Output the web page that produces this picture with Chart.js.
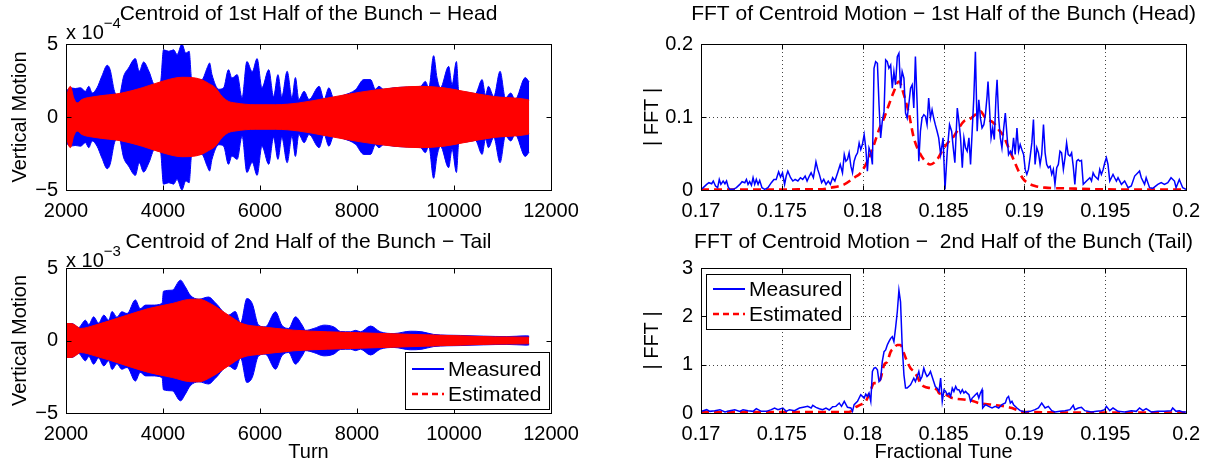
<!DOCTYPE html>
<html>
<head>
<meta charset="utf-8">
<script src="https://cdn.jsdelivr.net/npm/chart.js@4/dist/chart.umd.min.js"></script>
<style>
  html, body { margin: 0; padding: 0; background: #fff; }
  #fig { position: relative; width: 1209px; height: 464px; overflow: hidden; }
  #fig canvas { position: absolute; }
</style>
</head>
<body>
<div id="fig">
  <canvas id="headTime" width="604" height="232" style="left:0;top:0"></canvas>
  <canvas id="tailTime" width="604" height="232" style="left:0;top:232px"></canvas>
  <canvas id="headFft" width="605" height="232" style="left:604px;top:0"></canvas>
  <canvas id="tailFft" width="605" height="232" style="left:604px;top:232px"></canvas>
</div>
<script>
// ---- data ----
// time plots: envelope amplitude of the oscillation (head in 1e-4, tail in 1e-3)
const headMeasTurn = [2000,2090,2190,2300,2400,2470,2540,2640,2740,2850,
  2910,3000,3090,3190,3290,3430,3510,3600,3710,3830,
  3950,4010,4120,4220,4290,4390,4470,4540,4590,4800,
  4910,4960,5010,5150,5250,5350,5420,5530,5630,5730,
  5840,5940,6040,6180,6280,6370,6450,6560,6660,6730,
  6800,6910,7010,7220,7320,7420,7520,7730,7970,8140,
  8280,8380,8450,8550,8760,9030,9310,9410,9480,9580,
  9650,9720,9890,9960,10050,10100,10270,10440,10580,10650,
  10710,10820,10950,11060,11170,11260,11470,11550];
const headMeasAmp = [1.76,2.0,1.95,2.0,1.76,2.1,1.64,2.0,2.8,3.54,
  3.24,1.76,1.4,2.8,3.36,4.0,3.13,3.77,3.13,2.2,
  2.44,4.6,4.5,4.6,4.27,5.0,4.38,4.5,2.67,2.56,
  3.36,3.7,2.9,1.9,2.0,3.24,2.67,2.9,1.3,3.8,
  3.1,4.0,2.0,3.24,1.4,2.9,1.4,3.13,1.3,2.7,
  1.2,1.76,1.2,2.1,1.2,2.0,1.3,1.5,1.87,2.56,
  2.56,1.9,2.1,1.9,2.0,2.05,2.1,2.44,2.0,4.2,
  2.67,2.0,3.47,2.2,3.8,1.75,1.7,1.6,2.56,1.5,
  2.1,1.4,3.13,1.3,1.64,1.2,2.7,2.4];
const headEstTurn = [2000,2050,2090,2160,2230,2330,2600,3150,3570,3980,
  4390,4670,4800,4940,5080,5220,5350,5490,5900,6320,
  6800,7390,8070,8760,9310,9790,10200,10820,11500,11550];
const headEstAmp = [1.2,1.9,2.1,1.3,0.96,1.2,1.4,1.64,2.0,2.44,
  2.72,2.67,2.55,2.3,2.0,1.4,1.07,0.96,0.84,0.84,
  0.96,1.3,1.7,2.0,2.1,2.0,1.76,1.4,1.2,1.15];

const tailMeasTurn = [2000,2120,2260,2400,2470,2570,2670,2780,2880,2950,
  3050,3150,3260,3430,3530,3640,3770,3980,4010,4190,
  4360,4460,4560,4740,4940,5080,5350,5490,5600,5730,
  5840,5970,6110,6320,6450,6590,6730,6870,6940,7110,
  7320,7520,7660,7870,7970,8070,8280,8480,8760,9100,
  9340,9580,10130,10610,11090,11500,11550];
const tailMeasAmp = [1.17,1.17,0.9,1.4,1.1,1.63,1.2,1.75,1.4,2.0,
  1.6,1.98,1.86,2.8,2.2,2.44,2.44,2.55,3.4,3.47,
  4.16,3.7,3.13,2.85,3.0,2.6,1.75,2.0,1.2,2.9,
  2.55,1.06,0.94,1.98,1.06,0.83,1.63,1.06,0.7,0.83,
  1.06,0.94,0.62,0.6,0.7,0.6,1.0,0.6,0.48,0.64,
  0.6,0.42,0.35,0.3,0.27,0.32,0.3];
const tailEstTurn = [2000,2100,2190,2300,2600,3150,3700,4190,4530,4740,
  5010,5350,5630,6040,6590,6700,7390,8070,8760,9440,
  10130,10820,11500,11550];
const tailEstAmp = [1.17,1.17,1.06,0.83,1.06,1.63,2.2,2.55,2.83,2.85,
  2.48,1.75,1.17,0.94,0.75,0.71,0.6,0.53,0.46,0.39,
  0.32,0.25,0.23,0.22];

// FFT plots
const headFftTune = [0.17,0.17014,0.17035,0.17049,0.17066,0.17076,0.1709,0.17103,0.17113,0.17123,
  0.17137,0.17148,0.17158,0.17168,0.17178,0.17199,0.17219,0.1724,0.17254,0.17271,
  0.17281,0.17291,0.17301,0.17312,0.17322,0.17332,0.17342,0.17353,0.17363,0.17377,
  0.17394,0.17414,0.17435,0.17451,0.17465,0.1748,0.17492,0.17504,0.17517,0.17527,
  0.17537,0.17554,0.17568,0.17582,0.17599,0.17615,0.17629,0.17644,0.17656,0.1767,
  0.17681,0.17695,0.17711,0.17722,0.17732,0.17746,0.17759,0.17773,0.17787,0.178,
  0.17814,0.17828,0.17845,0.17861,0.17875,0.17886,0.17896,0.17906,0.17916,0.17927,
  0.17937,0.17947,0.17957,0.17968,0.17978,0.17988,0.17998,0.18009,0.18019,0.18029,
  0.18039,0.1805,0.1806,0.1807,0.1808,0.18091,0.18101,0.18111,0.18121,0.18132,
  0.18142,0.18152,0.18162,0.18173,0.18183,0.18193,0.18203,0.18214,0.18224,0.18234,
  0.18244,0.18255,0.18265,0.18275,0.18285,0.18296,0.18306,0.18316,0.18326,0.18337,
  0.18347,0.18357,0.18367,0.18378,0.18388,0.18398,0.18408,0.18419,0.18429,0.18439,
  0.18449,0.1846,0.1847,0.18482,0.18497,0.18509,0.18523,0.18537,0.1855,0.1856,
  0.1857,0.18585,0.18595,0.18605,0.18616,0.18626,0.18636,0.18646,0.18657,0.18667,
  0.18677,0.18687,0.18697,0.18708,0.18718,0.18728,0.18738,0.18749,0.18759,0.18769,
  0.18775,0.18783,0.18794,0.18804,0.18814,0.18824,0.18831,0.18841,0.18851,0.18861,
  0.18872,0.18882,0.18892,0.18902,0.18913,0.18923,0.18933,0.18943,0.18954,0.18964,
  0.18974,0.18984,0.18995,0.19005,0.19015,0.19025,0.19036,0.19046,0.19056,0.19066,
  0.19077,0.19087,0.19097,0.19107,0.19118,0.19128,0.19138,0.19148,0.19159,0.19169,
  0.19179,0.19189,0.192,0.1921,0.1922,0.1923,0.19241,0.19251,0.19261,0.19271,
  0.19282,0.19292,0.19302,0.19312,0.19323,0.19333,0.19343,0.19353,0.19364,0.19384,
  0.19405,0.19415,0.19425,0.19435,0.19456,0.19466,0.19476,0.19487,0.19497,0.19507,
  0.19517,0.19528,0.19538,0.19548,0.19558,0.19569,0.19579,0.196,0.1962,0.19641,
  0.19661,0.19682,0.19702,0.19712,0.19723,0.19743,0.19753,0.19774,0.19794,0.19825,
  0.19846,0.19866,0.19887,0.19907,0.19928,0.19938,0.19958,0.19979,0.2];
const headFftMeas = [0.0009,0.0032,0.0077,0.0100,0.0086,0.0123,0.0055,0.0032,0.0145,0.0077,
  0.0123,0.0086,0.0123,0.0041,0.0009,0.0009,0.0032,0.0077,0.0114,0.0100,
  0.0145,0.0077,0.0114,0.0064,0.0168,0.0077,0.0145,0.0077,0.0132,0.0032,
  0.0009,0.0032,0.0100,0.0145,0.0145,0.0250,0.0177,0.0236,0.0077,0.0191,
  0.0259,0.0168,0.0123,0.0145,0.0123,0.0168,0.0145,0.0191,0.0123,0.0191,
  0.0236,0.0168,0.0386,0.0282,0.0214,0.0100,0.0145,0.0077,0.0123,0.0077,
  0.0168,0.0123,0.0236,0.0350,0.0236,0.0486,0.0395,0.0418,0.0509,0.0327,
  0.0236,0.0395,0.0464,0.0509,0.0645,0.0554,0.0623,0.0759,0.0577,0.0259,
  0.0577,0.0509,0.0350,0.1668,0.1759,0.1736,0.1168,0.0714,0.0941,0.1077,
  0.1782,0.1759,0.1668,0.1714,0.1395,0.1623,0.1441,0.1827,0.1873,0.1395,
  0.1623,0.1532,0.1054,0.0986,0.1168,0.1395,0.1441,0.1123,0.1827,0.1168,
  0.0395,0.0805,0.0986,0.1032,0.1009,0.0895,0.1259,0.0986,0.1100,0.0986,
  0.0895,0.0805,0.0714,0.0486,0.0714,0.0009,0.0532,0.0895,0.0805,0.0577,
  0.0373,0.1123,0.0941,0.0714,0.0305,0.0714,0.0577,0.0532,0.0714,0.0350,
  0.0805,0.1259,0.1895,0.0805,0.1236,0.0986,0.0850,0.0895,0.1032,0.1282,
  0.1486,0.1168,0.0714,0.0850,0.0691,0.1259,0.1509,0.0986,0.0714,0.0577,
  0.0850,0.1054,0.0759,0.0486,0.0532,0.0486,0.0714,0.0486,0.0850,0.0532,
  0.0623,0.0555,0.0486,0.0282,0.0214,0.0282,0.0464,0.0645,0.0964,0.0350,
  0.0577,0.0509,0.0350,0.0486,0.0895,0.0509,0.0350,0.0305,0.0327,0.0214,
  0.0282,0.0077,0.0305,0.0350,0.0532,0.0509,0.0282,0.0441,0.0645,0.0486,
  0.0464,0.0509,0.0327,0.0077,0.0395,0.0418,0.0395,0.0405,0.0077,0.0123,
  0.0168,0.0123,0.0236,0.0191,0.0145,0.0282,0.0214,0.0282,0.0373,0.0441,
  0.0350,0.0123,0.0168,0.0214,0.0168,0.0123,0.0168,0.0077,0.0123,0.0032,
  0.0055,0.0191,0.0236,0.0259,0.0168,0.0077,0.0168,0.0032,0.0023,0.0077,
  0.0100,0.0077,0.0100,0.0168,0.0123,0.0032,0.0145,0.0032,0.0009];
const headFftEstTune = [0.17,0.173,0.176,0.1775,0.178,0.17886,0.17947,0.17988,0.18029,0.1807,
  0.18101,0.18132,0.18162,0.18193,0.18224,0.18255,0.18285,0.18316,0.18347,0.18378,
  0.18419,0.1846,0.18503,0.18534,0.18564,0.18595,0.18626,0.18657,0.18697,0.18728,
  0.18759,0.1881,0.18841,0.18872,0.18902,0.18933,0.18964,0.18995,0.19025,0.19066,
  0.19128,0.19251,0.19497,0.2];
const headFftEst = [0.0005,0.0005,0.0008,0.001,0.003,0.0077,0.0168,0.0236,0.0395,0.0623,
  0.0827,0.0986,0.1168,0.135,0.1486,0.1304,0.1054,0.0714,0.0532,0.0418,
  0.035,0.0418,0.0577,0.0668,0.0736,0.085,0.0941,0.0964,0.1032,0.1077,
  0.0986,0.0918,0.0827,0.0736,0.0577,0.0418,0.0259,0.0145,0.0091,0.0055,
  0.0032,0.0023,0.0009,0.0005];

const tailFftTune = [0.17,0.17014,0.17035,0.17055,0.17086,0.17117,0.17148,0.17178,0.17209,0.1724,
  0.1726,0.17291,0.17322,0.17342,0.17373,0.17404,0.17435,0.17455,0.17476,0.17506,
  0.17527,0.17547,0.17578,0.17609,0.1764,0.1766,0.17681,0.17691,0.17711,0.17732,
  0.17752,0.17773,0.17793,0.17814,0.17834,0.17855,0.17869,0.17886,0.17906,0.17927,
  0.17937,0.17947,0.17968,0.17988,0.18009,0.18019,0.18029,0.18039,0.1805,0.1806,
  0.1807,0.1808,0.18091,0.18101,0.18111,0.18121,0.18132,0.18142,0.18152,0.18162,
  0.18173,0.18183,0.18193,0.18203,0.18214,0.18224,0.18234,0.18244,0.18255,0.18265,
  0.18275,0.18285,0.18296,0.18306,0.18316,0.18326,0.18337,0.18347,0.18357,0.18367,
  0.18378,0.18388,0.18398,0.18408,0.18419,0.18429,0.18439,0.18449,0.1846,0.18472,
  0.18482,0.18492,0.18503,0.18513,0.18523,0.18534,0.18544,0.18554,0.18564,0.18575,
  0.18585,0.18595,0.18605,0.18616,0.18626,0.18636,0.18646,0.18657,0.18667,0.18677,
  0.18687,0.18697,0.18708,0.18718,0.18728,0.18738,0.18742,0.18759,0.18779,0.188,
  0.1882,0.18841,0.18861,0.18882,0.18892,0.18902,0.18913,0.18923,0.18933,0.18954,
  0.18974,0.19005,0.19036,0.19066,0.19087,0.19107,0.19128,0.19148,0.19169,0.19189,
  0.1922,0.19251,0.19282,0.19302,0.19312,0.19333,0.19353,0.19374,0.19415,0.19446,
  0.19476,0.19497,0.19507,0.19528,0.19548,0.19579,0.1962,0.19661,0.19692,0.19712,
  0.19733,0.19753,0.19784,0.19825,0.19866,0.19907,0.19917,0.19938,0.19958,0.19979,
  0.2];
const tailFftMeas = [0.034,0.048,0.069,0.034,0.048,0.069,0.021,0.048,0.069,0.034,
  0.069,0.048,0.034,0.089,0.034,0.034,0.069,0.103,0.069,0.103,
  0.034,0.069,0.048,0.103,0.124,0.137,0.103,0.158,0.117,0.089,
  0.069,0.103,0.062,0.13,0.137,0.206,0.137,0.24,0.117,0.103,
  0.034,0.172,0.24,0.378,0.309,0.391,0.343,0.412,0.24,0.858,
  0.927,0.94,0.892,0.652,0.687,1.064,1.27,1.304,1.407,1.476,
  1.545,1.579,1.476,1.751,2.094,2.54,2.3,1.407,0.789,0.515,
  0.515,0.549,0.584,0.652,0.721,0.652,0.755,0.858,0.687,0.755,
  0.927,0.824,0.755,0.789,0.858,0.755,0.652,0.549,0.515,0.446,
  0.721,0.24,0.481,0.446,0.378,0.412,0.343,0.515,0.446,0.549,
  0.481,0.481,0.412,0.481,0.412,0.446,0.412,0.378,0.24,0.309,
  0.343,0.378,0.412,0.309,0.412,0.481,0.103,0.172,0.137,0.103,
  0.137,0.103,0.172,0.206,0.309,0.343,0.206,0.24,0.172,0.103,
  0.048,0.021,0.034,0.069,0.103,0.206,0.103,0.137,0.048,0.021,
  0.034,0.048,0.069,0.158,0.069,0.103,0.117,0.048,0.021,0.034,
  0.048,0.069,0.137,0.048,0.103,0.034,0.021,0.048,0.034,0.103,
  0.048,0.089,0.021,0.034,0.034,0.048,0.103,0.034,0.048,0.021,
  0.021];
const tailFftEstTune = [0.17,0.175,0.179,0.17927,0.17947,0.17988,0.18019,0.1805,0.1807,0.18091,
  0.18111,0.18132,0.18152,0.18173,0.18193,0.18214,0.18234,0.18255,0.18275,0.18296,
  0.18316,0.18337,0.18357,0.18378,0.18419,0.1846,0.18472,0.18513,0.18554,0.18636,
  0.18677,0.18718,0.188,0.18882,0.18923,0.18964,0.19005,0.195,0.2];
const tailFftEst = [0.021,0.021,0.021,0.034,0.103,0.172,0.24,0.481,0.618,0.618,
  0.721,0.995,1.064,1.27,1.339,1.407,1.407,1.236,1.064,0.927,
  0.858,0.755,0.618,0.549,0.515,0.481,0.412,0.378,0.309,0.275,
  0.254,0.206,0.172,0.137,0.103,0.048,0.021,0.01,0.01];

// tick values
const turnTicks = [2000, 4000, 6000, 8000, 10000, 12000];
const motionTicks = [-5, 0, 5];
const tuneTicks = [0.17, 0.175, 0.18, 0.185, 0.19, 0.195, 0.2];
const headFftTicks = [0, 0.1, 0.2];
const tailFftTicks = [0, 1, 2, 3];

// ---- drawing ----
const BLUE = '#0000ff';
const RED = '#ff0000';
Chart.defaults.font.family = "'Liberation Sans', Arial, Helvetica, sans-serif";
Chart.defaults.font.size = 20;
Chart.defaults.color = '#000';

const fmt = v => (v < 0 ? '\u2212' + Math.abs(v) : String(v));
const zip = (xs, ys) => xs.map((x, i) => ({x: x, y: ys[i]}));
const band = (xs, amps, sign) => xs.map((x, i) => ({x: x, y: sign * amps[i]}));

// MATLAB-style frame: box, inward ticks, dotted grid, title, exponent, legend
const matlabAxes = {
  id: 'matlabAxes',
  beforeDatasetsDraw(chart, args, o) {
    if (!o.grid) return;
    const {ctx, chartArea: a, scales: {x, y}} = chart;
    ctx.save();
    ctx.strokeStyle = '#444';
    ctx.lineWidth = 1;
    ctx.setLineDash([1, 3]);
    ctx.beginPath();
    x.ticks.forEach(t => {
      const px = Math.round(x.getPixelForValue(t.value)) + 0.5;
      if (px > a.left + 2 && px < a.right - 2) { ctx.moveTo(px, a.top); ctx.lineTo(px, a.bottom); }
    });
    y.ticks.forEach(t => {
      const py = Math.round(y.getPixelForValue(t.value)) + 0.5;
      if (py > a.top + 2 && py < a.bottom - 2) { ctx.moveTo(a.left, py); ctx.lineTo(a.right, py); }
    });
    ctx.stroke();
    ctx.restore();
  },
  afterDatasetsDraw(chart, args, o) {
    const {ctx, chartArea: a, scales: {x, y}} = chart;
    const L = Math.round(a.left) + 0.5, R = Math.round(a.right) + 0.5;
    const T = Math.round(a.top) + 0.5, B = Math.round(a.bottom) + 0.5;
    const tl = 5;
    ctx.save();
    ctx.strokeStyle = '#000';
    ctx.lineWidth = 1;
    ctx.strokeRect(L, T, R - L, B - T);
    ctx.beginPath();
    x.ticks.forEach(t => {
      const px = Math.round(x.getPixelForValue(t.value)) + 0.5;
      ctx.moveTo(px, B); ctx.lineTo(px, B - tl);
      ctx.moveTo(px, T); ctx.lineTo(px, T + tl);
    });
    y.ticks.forEach(t => {
      const py = Math.round(y.getPixelForValue(t.value)) + 0.5;
      ctx.moveTo(L, py); ctx.lineTo(L + tl, py);
      ctx.moveTo(R, py); ctx.lineTo(R - tl, py);
    });
    ctx.stroke();

    if (o.legend) {
      const lg = o.legend;
      ctx.fillStyle = '#fff';
      ctx.fillRect(lg.x, lg.y, lg.w, lg.h);
      ctx.strokeStyle = '#000';
      ctx.strokeRect(lg.x + 0.5, lg.y + 0.5, lg.w, lg.h);
      ctx.font = '21px ' + Chart.defaults.font.family;
      ctx.textBaseline = 'middle';
      ctx.textAlign = 'left';
      lg.items.forEach((it, i) => {
        const cy = lg.y + lg.rows[i];
        ctx.save();
        ctx.strokeStyle = it.color;
        ctx.lineWidth = it.width;
        ctx.setLineDash(it.dash);
        ctx.beginPath();
        ctx.moveTo(lg.x + 7, cy);
        ctx.lineTo(lg.x + 39, cy);
        ctx.stroke();
        ctx.restore();
        ctx.fillStyle = '#000';
        ctx.fillText(it.label, lg.x + 43, cy + 1);
      });
    }
    ctx.restore();
  },
  afterDraw(chart, args, o) {
    const {ctx, chartArea: a} = chart;
    const fam = Chart.defaults.font.family;
    ctx.save();
    ctx.fillStyle = '#000';
    ctx.textBaseline = 'middle';
    ctx.textAlign = 'center';
    ctx.font = '21px ' + fam;
    ctx.fillText(o.title, (a.left + a.right) / 2, o.titleY);
    if (o.exponent) {
      ctx.textAlign = 'left';
      ctx.font = '20px ' + fam;
      ctx.fillText('x 10', a.left, o.expY);
      const w = ctx.measureText('x 10').width;
      ctx.font = '15px ' + fam;
      ctx.fillText(o.exponent, a.left + w, o.expY - 9);
    }
    ctx.restore();
  }
};

function scaleSet(p) {
  return {
    x: {
      type: 'linear', min: p.xMin, max: p.xMax,
      grid: {display: false, drawTicks: false},
      border: {display: false},
      afterBuildTicks: s => { s.ticks = p.xTicks.map(v => ({value: v})); },
      afterFit: s => { s.height = p.xAxisH; },
      ticks: {padding: 9, maxRotation: 0, autoSkip: false, callback: fmt},
      title: {display: !!p.xTitle, text: p.xTitle || '', padding: {top: 0, bottom: 0}}
    },
    y: {
      type: 'linear', min: p.yMin, max: p.yMax,
      grid: {display: false, drawTicks: false},
      border: {display: false},
      afterBuildTicks: s => { s.ticks = p.yTicks.map(v => ({value: v})); },
      afterFit: s => { s.width = p.yAxisW; },
      ticks: {padding: 8, autoSkip: false, callback: fmt},
      title: {display: true, text: p.yTitle, padding: {top: p.yTitlePad, bottom: 0}}
    }
  };
}

function baseOptions(p, frame) {
  return {
    responsive: false,
    animation: false,
    events: [],
    layout: {padding: {left: 0, top: p.padTop, right: p.padRight, bottom: 0}},
    plugins: {legend: {display: false}, tooltip: {enabled: false}, matlabAxes: frame},
    scales: scaleSet(p)
  };
}

function timeChart(id, measTurn, measAmp, estTurn, estAmp, p, frame) {
  const env = (data, color, fill) => ({
    data: data, borderColor: color, backgroundColor: color, borderWidth: 1,
    pointRadius: 0, cubicInterpolationMode: 'monotone', fill: fill
  });
  return new Chart(document.getElementById(id), {
    type: 'line',
    data: {
      datasets: [
        Object.assign(env(band(estTurn, estAmp, 1), RED, '+1'), {label: 'Estimated'}),
        env(band(estTurn, estAmp, -1), RED, false),
        Object.assign(env(band(measTurn, measAmp, 1), BLUE, '+1'), {label: 'Measured'}),
        env(band(measTurn, measAmp, -1), BLUE, false)
      ]
    },
    options: baseOptions(p, frame),
    plugins: [matlabAxes]
  });
}

function fftChart(id, tune, meas, estTune, est, p, frame) {
  return new Chart(document.getElementById(id), {
    type: 'line',
    data: {
      datasets: [
        {label: 'Measured', data: zip(tune, meas), borderColor: BLUE, borderWidth: 1.5,
         pointRadius: 0, tension: 0, fill: false},
        {label: 'Estimated', data: zip(estTune, est), borderColor: RED, borderWidth: 2.6,
         borderDash: [8, 5], pointRadius: 0, cubicInterpolationMode: 'monotone', fill: false}
      ]
    },
    options: baseOptions(p, frame),
    plugins: [matlabAxes]
  });
}

const legendItems = [
  {label: 'Measured', color: BLUE, width: 2, dash: []},
  {label: 'Estimated', color: RED, width: 2.6, dash: [6, 4]}
];

const timeAxes = {xMin: 2000, xMax: 12000, xTicks: turnTicks, yMin: -5, yMax: 5, yTicks: motionTicks,
  yTitle: 'Vertical Motion', yAxisW: 66, yTitlePad: 8, padRight: 53};
const fftAxes = {xMin: 0.17, xMax: 0.2, xTicks: tuneTicks, yTitle: '| FFT |', yAxisW: 97, yTitlePad: 36, padRight: 21};

timeChart('headTime', headMeasTurn, headMeasAmp, headEstTurn, headEstAmp,
  Object.assign({}, timeAxes, {padTop: 44, xAxisH: 42}),
  {title: 'Centroid of 1st Half of the Bunch \u2212 Head', titleY: 14, exponent: '\u22124', expY: 33});

timeChart('tailTime', tailMeasTurn, tailMeasAmp, tailEstTurn, tailEstAmp,
  Object.assign({}, timeAxes, {padTop: 36, xAxisH: 51, xTitle: 'Turn'}),
  {title: 'Centroid of 2nd Half of the Bunch \u2212 Tail', titleY: 10, exponent: '\u22123', expY: 29,
   legend: {x: 405, y: 120, w: 144, h: 57, rows: [17, 42], items: legendItems}});

fftChart('headFft', headFftTune, headFftMeas, headFftEstTune, headFftEst,
  Object.assign({}, fftAxes, {yMin: 0, yMax: 0.2, yTicks: headFftTicks, padTop: 44, xAxisH: 42}),
  {title: 'FFT of Centroid Motion \u2212 1st Half of the Bunch (Head)', titleY: 14, grid: true});

fftChart('tailFft', tailFftTune, tailFftMeas, tailFftEstTune, tailFftEst,
  Object.assign({}, fftAxes, {yMin: 0, yMax: 3, yTicks: tailFftTicks, padTop: 36, xAxisH: 51, xTitle: 'Fractional Tune'}),
  {title: 'FFT of Centroid Motion \u2212  2nd Half of the Bunch (Tail)', titleY: 10, grid: true,
   legend: {x: 102, y: 42, w: 144, h: 55, rows: [15, 40], items: legendItems}});
</script>
</body>
</html>
